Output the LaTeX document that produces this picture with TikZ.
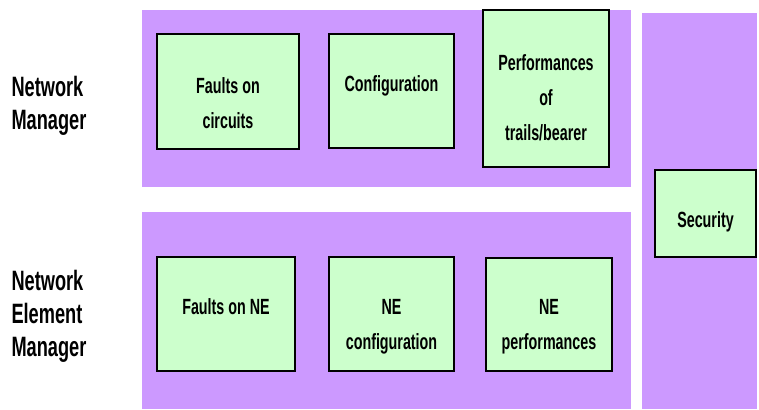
\documentclass[tikz,border=0pt]{standalone}
\usepackage{fontspec}
\newfontfamily\narrowsans[FakeStretch=0.65]{Liberation Sans}
\definecolor{layerpurple}{RGB}{204,153,255}
\definecolor{funcgreen}{RGB}{204,255,204}
\tikzset{
    layer/.style={fill=layerpurple},
    func/.style={draw=black, fill=funcgreen, line width=1.6pt},
    functext/.style={font=\narrowsans\bfseries\fontsize{22}{35}\selectfont, align=center},
    leveltext/.style={font=\narrowsans\bfseries\fontsize{28}{33}\selectfont, align=left, anchor=west},
}
\begin{document}
\begin{tikzpicture}[x=1pt, y=-1pt]
    \useasboundingbox (0,0) rectangle (759,409);

    % Management layers
    \fill[layer] (142,10) rectangle (631,187);
    \fill[layer] (142,212) rectangle (631,409);
    \fill[layer] (642,13) rectangle (757,409);

    \node[leveltext] (nm) at (8,106) {Network\\Manager};
    \node[leveltext] (nem) at (8,316) {Network\\Element\\Manager};

    % Network Manager functions
    \draw[func] (157,34) rectangle (299,149);
    \node[functext] (fcirc) at (228,103) {Faults on\\circuits};
    \draw[func] (329,34) rectangle (454,148);
    \node[functext] (conf) at (391.5,86) {Configuration};
    \draw[func] (483,10) rectangle (609,167);
    \node[functext] (perf) at (546,98) {Performances\\of\\trails/bearer};

    % Security spans both layers
    \draw[func] (655,170) rectangle (756,257);
    \node[functext] (sec) at (705.5,222) {Security};

    % Network Element Manager functions
    \draw[func] (157,257) rectangle (295,371);
    \node[functext] (fne) at (226,307) {Faults on NE};
    \draw[func] (329,257) rectangle (454,371);
    \node[functext] (neconf) at (391.5,327) {NE\\configuration};
    \draw[func] (486,258) rectangle (612,371);
    \node[functext] (neperf) at (549,327) {NE\\performances};
\end{tikzpicture}
\end{document}
